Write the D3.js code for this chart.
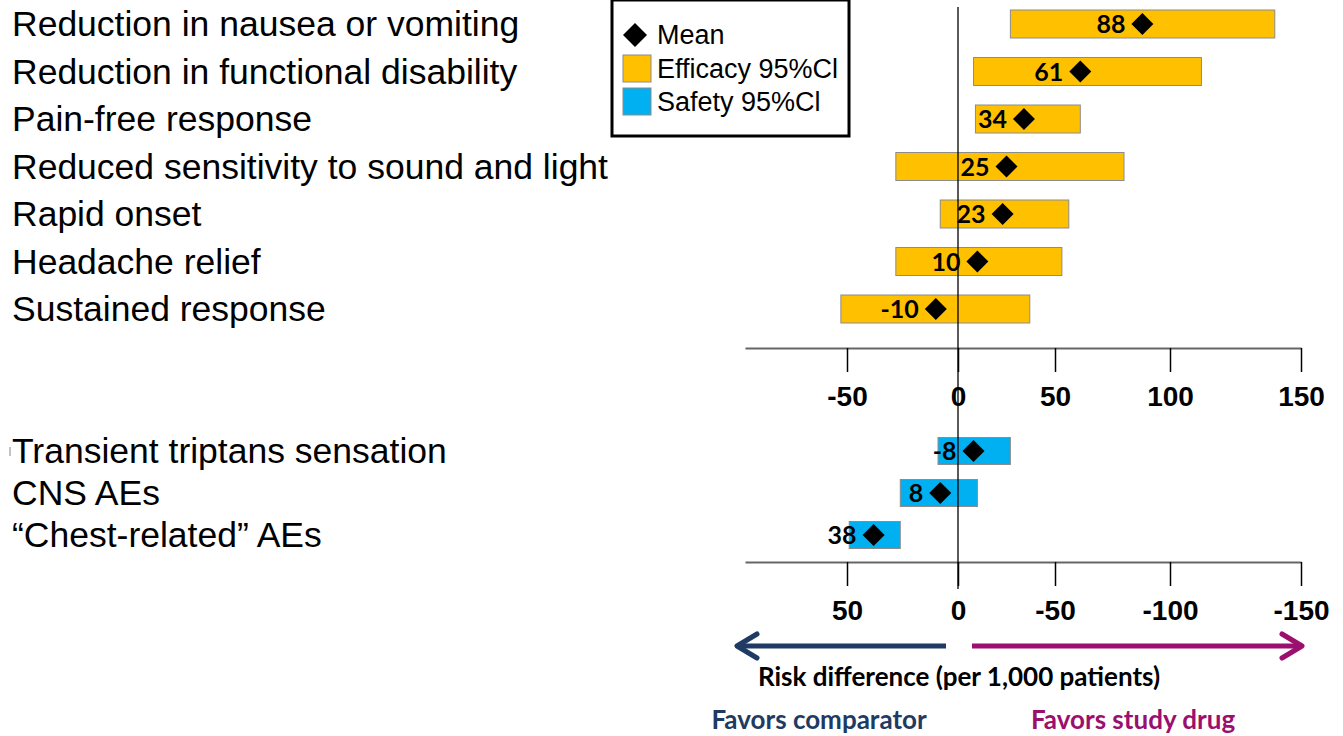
<!DOCTYPE html>
<html>
<head>
<meta charset="utf-8">
<script src="https://cdn.jsdelivr.net/npm/d3@7"></script>
<style>
  html, body { margin: 0; padding: 0; background: #fff; }
  svg { display: block; }
</style>
</head>
<body>
<svg id="chart" width="1343" height="736"></svg>
<script>
// Efficacy outcomes: risk difference per 1,000 patients (mean and 95% CI)
const efficacyLabels = [
  "Reduction in nausea or vomiting",
  "Reduction in functional disability",
  "Pain-free response",
  "Reduced sensitivity to sound and light",
  "Rapid onset",
  "Headache relief",
  "Sustained response"
];
const efficacyMean = [88, 61, 34, 25, 23, 10, -10];
const efficacyLow  = [27, 8, 9, -28, -8, -28, -53];
const efficacyHigh = [140, 112, 61, 80, 56, 53, 37];

// Safety outcomes (risk difference per 1,000 patients, axis reversed)
const safetyLabels = [
  "Transient triptans sensation",
  "CNS AEs",
  "\u201CChest-related\u201D AEs"
];
const safetyMean = [-8, 8, 38];
const safetyLow  = [-27, -10, 26];
const safetyHigh = [9, 26, 49];

// Axis tick values
const efficacyTicks = [-50, 0, 50, 100, 150];
const safetyTicks = [50, 0, -50, -100, -150];

const svg = d3.select("#chart");
const COL_EFF = "#FFC000";
const COL_SAF = "#00B0F0";
const BAR_STROKE = "#8c8c8c";

// Piecewise-linear horizontal scales (segment widths follow the drawn axis)
const xRange = [745, 847, 958, 1055, 1170, 1301];
const xEff = d3.scaleLinear().domain([-100, -50, 0, 50, 100, 150]).range(xRange);
const xSaf = d3.scaleLinear().domain([100, 50, 0, -50, -100, -150]).range(xRange);

const yEff = d3.scalePoint().domain(efficacyLabels).range([24, 309]);
const ySaf = d3.scalePoint().domain(safetyLabels).range([451, 535]);

const effRows = efficacyLabels.map((c, i) => ({ c, m: efficacyMean[i], lo: efficacyLow[i], hi: efficacyHigh[i] }));
const safRows = safetyLabels.map((c, i) => ({ c, m: safetyMean[i], lo: safetyLow[i], hi: safetyHigh[i] }));

// Category labels
function drawLabels(rows, y) {
  svg.append("g").selectAll("text").data(rows).join("text")
    .attr("x", 12).attr("y", d => y(d.c)).attr("dy", "0.35em")
    .attr("font-family", "'Liberation Sans', Arial, sans-serif")
    .attr("font-size", 35.5).attr("fill", "#000")
    .text(d => d.c);
}
drawLabels(effRows, yEff);
drawLabels(safRows, ySaf);
svg.append("line").attr("x1", 10).attr("x2", 10).attr("y1", 447).attr("y2", 456)
  .attr("stroke", "#888").attr("stroke-width", 1);

// Axes
function drawAxis(scale, ticks, yPos) {
  const g = svg.append("g").attr("transform", `translate(0,${yPos})`)
    .call(d3.axisBottom(scale).tickValues(ticks).tickSize(24).tickSizeOuter(0)
      .tickFormat(d => String(d)));
  g.select(".domain").attr("stroke", "#666").attr("stroke-width", 2);
  g.selectAll(".tick line").attr("stroke", "#000").attr("stroke-width", 1.5);
  g.selectAll(".tick text")
    .attr("y", 48).attr("dy", "0.35em")
    .attr("font-family", "'Liberation Sans', Arial, sans-serif")
    .attr("font-weight", "bold").attr("font-size", 28).attr("fill", "#000");
  return g;
}
drawAxis(xEff, efficacyTicks, 348);
drawAxis(xSaf, safetyTicks, 562);

// CI bars, mean diamonds and value labels
function drawRows(rows, x, y, color, h) {
  const g = svg.append("g");
  g.selectAll("rect").data(rows).join("rect")
    .attr("x", d => Math.min(x(d.lo), x(d.hi))).attr("y", d => y(d.c) - h / 2)
    .attr("width", d => Math.abs(x(d.hi) - x(d.lo))).attr("height", h)
    .attr("fill", color).attr("stroke", BAR_STROKE).attr("stroke-width", 1);
  g.selectAll("path").data(rows).join("path")
    .attr("d", d => {
      const cx = x(d.m), cy = y(d.c), r = 11;
      return `M${cx},${cy - r}L${cx + r},${cy}L${cx},${cy + r}L${cx - r},${cy}Z`;
    })
    .attr("fill", "#000");
  g.selectAll("text").data(rows).join("text")
    .attr("x", d => x(d.m) - 17).attr("y", d => y(d.c)).attr("dy", "0.36em")
    .attr("text-anchor", "end")
    .attr("font-family", "Lato, 'Open Sans', sans-serif")
    .attr("font-weight", "bold").attr("font-size", 25).attr("fill", "#000")
    .text(d => String(d.m));
}
drawRows(effRows, xEff, yEff, COL_EFF, 28);
drawRows(safRows, xSaf, ySaf, COL_SAF, 27);

// Zero reference line, drawn over the bars
svg.append("line")
  .attr("x1", xEff(0)).attr("x2", xEff(0)).attr("y1", 7).attr("y2", 589)
  .attr("stroke", "#000").attr("stroke-width", 1.3);

// Legend
const lg = svg.append("g");
lg.append("rect").attr("x", 612).attr("y", 0).attr("width", 237).attr("height", 136)
  .attr("fill", "#fff").attr("stroke", "#000").attr("stroke-width", 3);
lg.append("path").attr("d", "M635,23L647,35L635,47L623,35Z").attr("fill", "#000");
lg.append("rect").attr("x", 623).attr("y", 55).attr("width", 28).attr("height", 27)
  .attr("fill", COL_EFF).attr("stroke", BAR_STROKE);
lg.append("rect").attr("x", 623).attr("y", 88).attr("width", 28).attr("height", 27)
  .attr("fill", COL_SAF).attr("stroke", BAR_STROKE);
[["Mean", 35], ["Efficacy 95%Cl", 69], ["Safety 95%Cl", 102]].forEach(([t, yy]) => {
  lg.append("text").attr("x", 657).attr("y", yy).attr("dy", "0.35em")
    .attr("font-family", "'Liberation Sans', Arial, sans-serif")
    .attr("font-size", 27).attr("fill", "#000").text(t);
});

// Direction arrows
const NAVY = "#1F3B63", PURPLE = "#9B0F6F";
function arrow(x1, x2, yy, color) {
  const dir = Math.sign(x2 - x1);
  const g = svg.append("g").attr("stroke", color).attr("stroke-width", 5)
    .attr("fill", "none").attr("stroke-linecap", "round").attr("stroke-linejoin", "round");
  g.append("line").attr("x1", x1).attr("x2", x2 - dir * 2).attr("y1", yy).attr("y2", yy)
    .attr("stroke-linecap", "butt");
  g.append("path").attr("d", `M${x2 - dir * 20},${yy - 12}L${x2},${yy}L${x2 - dir * 20},${yy + 12}`);
}
arrow(946, 737, 646, NAVY);
arrow(972, 1302, 646, PURPLE);

const cal = "Lato, 'Open Sans', sans-serif";
svg.append("text").attr("x", 959).attr("y", 677).attr("dy", "0.35em")
  .attr("text-anchor", "middle").attr("font-family", cal).attr("font-weight", "bold")
  .attr("font-size", 26).attr("fill", "#000").text("Risk difference (per 1,000 patients)");
svg.append("text").attr("x", 819).attr("y", 720).attr("dy", "0.35em")
  .attr("text-anchor", "middle").attr("font-family", cal).attr("font-weight", "bold")
  .attr("font-size", 26).attr("fill", NAVY).text("Favors comparator");
svg.append("text").attr("x", 1133).attr("y", 720).attr("dy", "0.35em")
  .attr("text-anchor", "middle").attr("font-family", cal).attr("font-weight", "bold")
  .attr("font-size", 26).attr("fill", PURPLE).text("Favors study drug");
</script>
</body>
</html>
